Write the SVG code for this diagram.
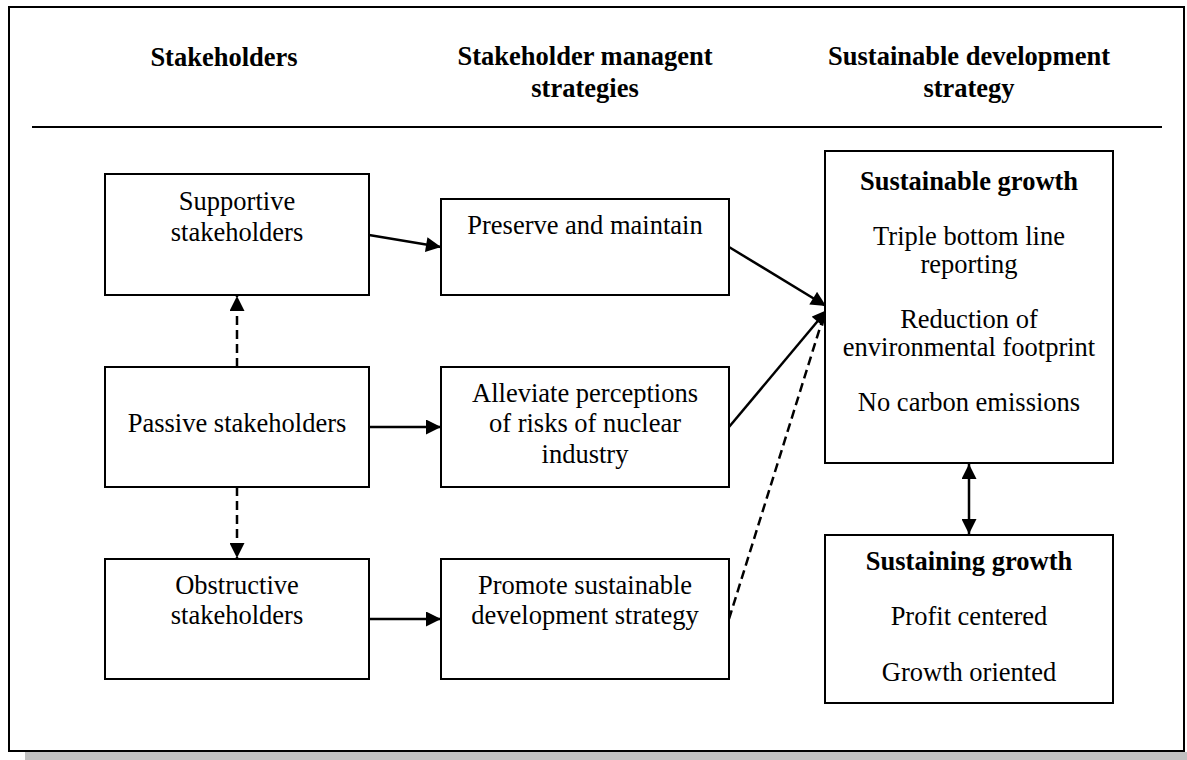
<svg xmlns="http://www.w3.org/2000/svg" width="1187" height="760" viewBox="0 0 1187 760">
<defs>
<style>
.box{fill:#fff;stroke:#000;stroke-width:2}
.t{font-family:"Liberation Serif","Times New Roman",serif;font-size:26.5px;fill:#000;text-anchor:middle}
.b{font-weight:bold}
.c{fill:none;stroke:#000;stroke-width:2.5}
.d{stroke-dasharray:9,5}
</style>
<marker id="ah" viewBox="0 0 10 10" refX="10" refY="5" markerWidth="16" markerHeight="15" markerUnits="userSpaceOnUse" orient="auto-start-reverse">
<path d="M0,0 L10,5 L0,10 z" fill="#000"/>
</marker>
</defs>
<rect x="0" y="0" width="1187" height="760" fill="#fff"/>
<rect x="25" y="752" width="1162" height="8" fill="#c0c0c0"/>
<rect x="9" y="7" width="1175" height="744" fill="#fff" stroke="#000" stroke-width="2"/>
<g id="header">
<text class="t b" x="224" y="66">Stakeholders</text>
<text class="t b" x="585" y="65">Stakeholder managent</text>
<text class="t b" x="585" y="97">strategies</text>
<text class="t b" x="969" y="65">Sustainable development</text>
<text class="t b" x="969" y="97">strategy</text>
<line x1="32" y1="127" x2="1162" y2="127" stroke="#000" stroke-width="2"/>
</g>
<g id="connectors">
<line class="c" x1="369" y1="235" x2="441" y2="247" marker-end="url(#ah)"/>
<line class="c" x1="369" y1="427" x2="441" y2="427" marker-end="url(#ah)"/>
<line class="c" x1="369" y1="619" x2="441" y2="619" marker-end="url(#ah)"/>
<line class="c d" x1="237" y1="367" x2="237" y2="296" marker-end="url(#ah)"/>
<line class="c d" x1="237" y1="487" x2="237" y2="558" marker-end="url(#ah)"/>
<line class="c" x1="729" y1="247" x2="826" y2="306" marker-end="url(#ah)"/>
<line class="c" x1="729" y1="427" x2="827" y2="310" marker-end="url(#ah)"/>
<line class="c d" x1="729" y1="619" x2="823" y2="318"/>
<line class="c" x1="969" y1="464" x2="969" y2="534" marker-start="url(#ah)" marker-end="url(#ah)"/>
</g>
<g id="supportive">
<rect class="box" x="105" y="174" width="264" height="121"/>
<text class="t" x="237" y="210">Supportive</text>
<text class="t" x="237" y="241">stakeholders</text>
</g>
<g id="passive">
<rect class="box" x="105" y="367" width="264" height="120"/>
<text class="t" x="237" y="432">Passive stakeholders</text>
</g>
<g id="obstructive">
<rect class="box" x="105" y="559" width="264" height="120"/>
<text class="t" x="237" y="594">Obstructive</text>
<text class="t" x="237" y="624">stakeholders</text>
</g>
<g id="preserve">
<rect class="box" x="441" y="199" width="288" height="96"/>
<text class="t" x="585" y="234">Preserve and maintain</text>
</g>
<g id="alleviate">
<rect class="box" x="441" y="367" width="288" height="120"/>
<text class="t" x="585" y="402">Alleviate perceptions</text>
<text class="t" x="585" y="432">of risks of nuclear</text>
<text class="t" x="585" y="463">industry</text>
</g>
<g id="promote">
<rect class="box" x="441" y="559" width="288" height="120"/>
<text class="t" x="585" y="594">Promote sustainable</text>
<text class="t" x="585" y="624">development strategy</text>
</g>
<g id="sustainable-growth">
<rect class="box" x="825" y="151" width="288" height="312"/>
<text class="t b" x="969" y="190">Sustainable growth</text>
<text class="t" x="969" y="245">Triple bottom line</text>
<text class="t" x="969" y="273">reporting</text>
<text class="t" x="969" y="328">Reduction of</text>
<text class="t" x="969" y="356">environmental footprint</text>
<text class="t" x="969" y="411">No carbon emissions</text>
</g>
<g id="sustaining-growth">
<rect class="box" x="825" y="535" width="288" height="168"/>
<text class="t b" x="969" y="570">Sustaining growth</text>
<text class="t" x="969" y="625">Profit centered</text>
<text class="t" x="969" y="681">Growth oriented</text>
</g>
</svg>
